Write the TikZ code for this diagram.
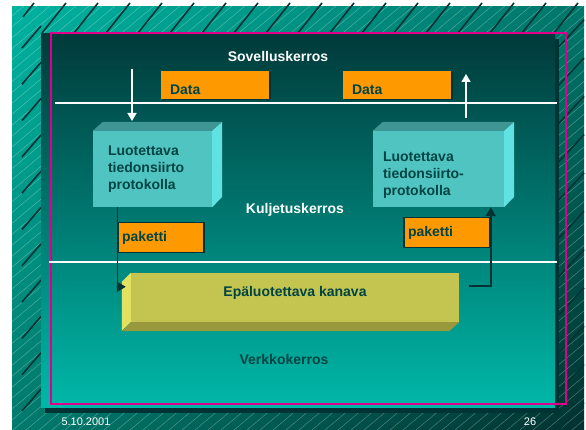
\documentclass[tikz,border=0pt]{standalone}
\usepackage{fontspec}
\setmainfont{Liberation Sans}
\usetikzlibrary{arrows.meta,shadows,shadings}

\definecolor{bgA}{RGB}{0,178,160}
\definecolor{bgB}{RGB}{0,118,106}
\definecolor{bgC}{RGB}{0,122,108}
\definecolor{bgD}{RGB}{0,50,48}
\definecolor{panelTop}{RGB}{0,58,58}
\definecolor{panelMid}{RGB}{0,122,114}
\definecolor{panelBot}{RGB}{0,184,168}
\definecolor{panelShd}{RGB}{0,52,52}
\definecolor{frame}{RGB}{222,0,140}
\definecolor{dataor}{RGB}{255,153,0}
\definecolor{txtdark}{RGB}{0,68,68}
\definecolor{cubeF}{RGB}{80,196,192}
\definecolor{cubeT}{RGB}{62,150,148}
\definecolor{cubeS}{RGB}{96,226,226}
\definecolor{chanF}{RGB}{196,196,80}
\definecolor{chanS}{RGB}{226,226,96}
\definecolor{chanB}{RGB}{152,152,60}

\tikzset{
  big/.style={font=\bfseries\fontsize{14}{17}\selectfont},
  whitelbl/.style={big, text=white},
  darklbl/.style={big, text=txtdark},
  databox/.style={darklbl, fill=dataor, inner sep=0pt, inner xsep=9pt,
    text width=90pt, align=left, minimum height=28pt,
    text height=20pt, text depth=0pt,
    drop shadow={shadow xshift=1.5pt, shadow yshift=-1.5pt, opacity=1, fill=panelShd}},
  pakbox/.style={darklbl, fill=dataor, draw=panelShd, line width=1.5pt,
    inner sep=0pt, inner xsep=4pt, text width=78pt, align=left, minimum height=30pt},
  cubefront/.style={darklbl, fill=cubeF, inner sep=0pt, align=left, minimum height=76pt},
  wline/.style={white, line width=1.5pt},
  dline/.style={panelShd, line width=1.5pt},
  slash/.style={panelShd, line width=1.6pt},
  foot/.style={white, font=\fontsize{11}{13}\selectfont}
}

\begin{document}
\begin{tikzpicture}[x=1pt,y=-1pt]
\useasboundingbox (0,0) rectangle (586,430);

% slide background
\shade[upper left=bgA, upper right=bgB, lower left=bgC, lower right=bgD] (12,7) rectangle (584,430);
\begin{scope}
\clip (12,7) rectangle (584,430);
\foreach \i in {-50,...,45}
  \draw[white, opacity=.35, line width=.4pt] ({\i*13},430) -- ++(512,-430);
\end{scope}
\draw[slash] (34,3) -- (23,17);
\foreach \k in {1,...,17}
  \draw[slash] ({34+32*\k},3) -- ++(-24,30);
\foreach \k in {0,...,10}
  \draw[slash] (22,{48+36.3*\k}) -- ++(19,-22);
\foreach \k in {-4,...,6}
  \draw[slash] (556,{203+38.3*\k}) -- ++(28,-30);

% panel
\fill[panelShd] (45,39) rectangle (559,413);
\shade[top color=panelTop, middle color=panelMid, bottom color=panelBot] (41,34) rectangle (555,407);
\draw[frame, line width=1.5pt] (51,33) rectangle (566,404);

% layer borders
\draw[wline] (55,103) -- (557,103);
\draw[wline] (49,262) -- (557,262);

% layer names
\node[whitelbl] (appl) at (278,56) {Sovelluskerros};
\node[whitelbl] (transp) at (295,210) {Kuljetuskerros};
\node[darklbl] (netw) at (284,359) {Verkkokerros};

% data
\node[databox] (dataL) at (215,85) {Data};
\node[databox] (dataR) at (397,85) {Data};

% transport protocols
\node[cubefront, minimum width=119pt, text width=89pt] (protoL) at (152.5,169)
  {Luotettava\\tiedonsiirto\\protokolla};
\fill[cubeT] (protoL.north west) -- ++(10,-9) -- ++(119,0) -- (protoL.north east) -- cycle;
\fill[cubeS] (protoL.north east) -- ++(10,-9) -- ++(0,75) -- (protoL.south east) -- cycle;

\node[cubefront, minimum width=131pt, text width=111pt] (protoR) at (438.5,169)
  {\rule{0pt}{22pt}Luotettava\\tiedonsiirto-\\protokolla};
\fill[cubeT] (protoR.north west) -- ++(10,-9) -- ++(131,0) -- (protoR.north east) -- cycle;
\fill[cubeS] (protoR.north east) -- ++(10,-9) -- ++(0,75) -- (protoR.south east) -- cycle;

% packets
\node[pakbox] (pakL) at (161,237.5) {paketti};
\node[pakbox] (pakR) at (447,232.5) {paketti};

% channel
\node[darklbl, fill=chanF, minimum width=328pt, minimum height=49pt,
  text height=10pt, text depth=11pt] (kanava) at (295,297.5) {Epäluotettava kanava};
\fill[chanS] (kanava.north west) -- ++(-9,9) -- ++(0,49) -- (kanava.south west) -- cycle;
\fill[chanB] (kanava.south west) -- (kanava.south east) -- ++(-10,9) -- ++(-327,0) -- cycle;

% flow
\coordinate (sendtop) at (132,69);
\coordinate (sendend) at (132,121);
\coordinate (recvbot) at (466,118);
\coordinate (recvend) at (466,74);
\draw[wline, -{Triangle[width=9pt,length=8pt]}] (sendtop) -- (sendend);
\draw[wline, -{Triangle[width=9pt,length=8pt]}] (recvbot) -- (recvend);
\draw[dline, -{Triangle[width=10pt,length=9pt]}] (protoL.south -| pakL.west)
  |- ([shift={(-5,14)}]kanava.north west);
\draw[dline, -{Triangle[width=10pt,length=9pt]}] ([shift={(10,13)}]kanava.north east)
  -| (pakR.east |- protoR.south);

% footer
\node[foot, anchor=west] (date) at (58,422) {5.10.2001};
\node[foot] (pageno) at (530,422) {26};
\end{tikzpicture}
\end{document}
